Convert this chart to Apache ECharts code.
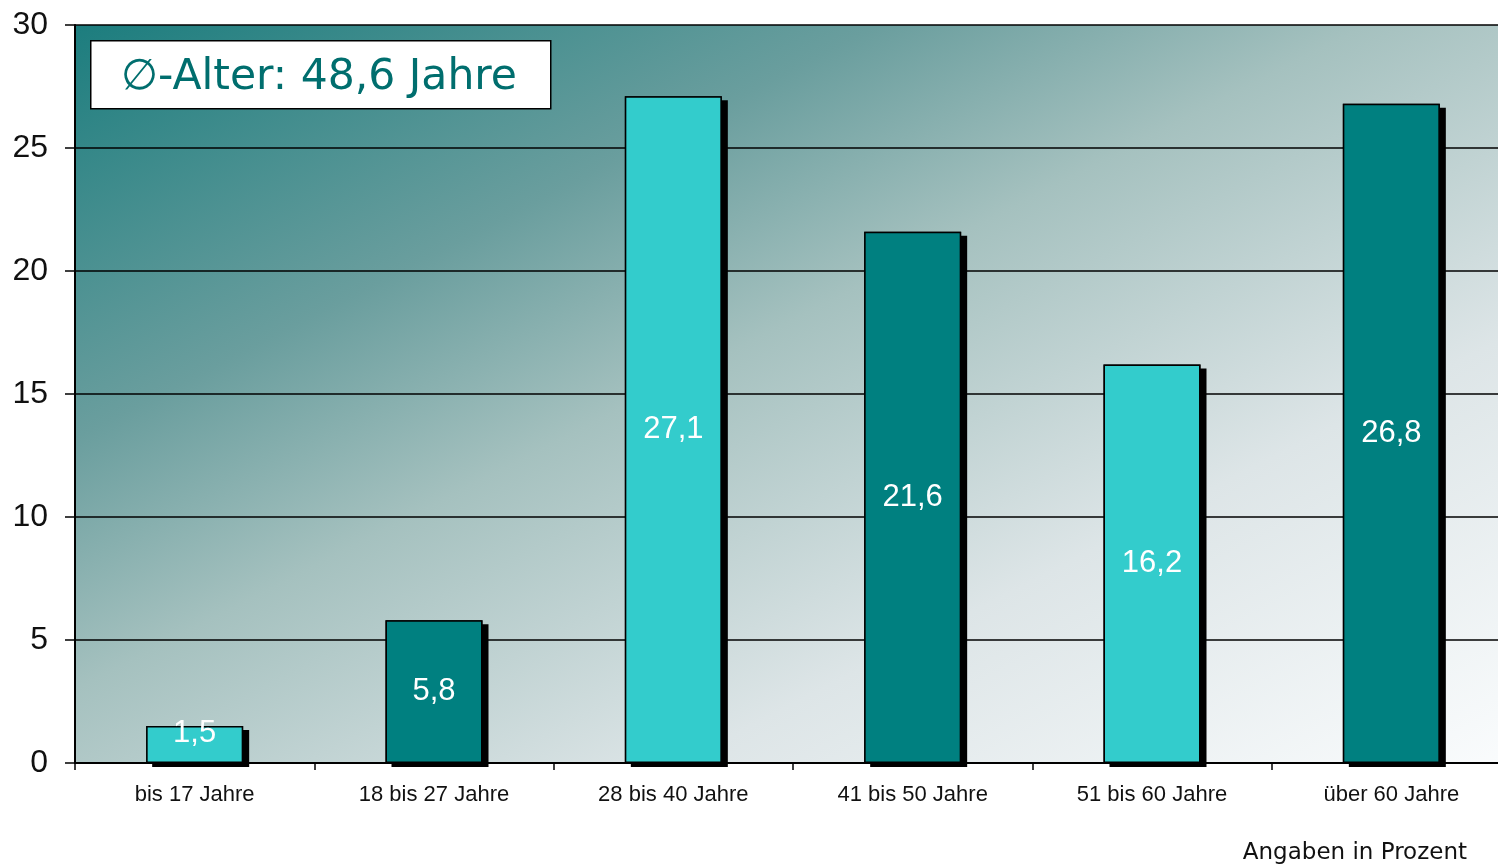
<!DOCTYPE html>
<html lang="de">
<head>
    <meta charset="UTF-8">
    <title>Altersstruktur</title>
    <style>
        html, body { margin: 0; padding: 0; background: #fff; }
    </style>
</head>
<body>

<div id="main" style="width: 1498px;height:865px;"></div>

<script src="https://cdn.jsdelivr.net/npm/echarts@6/dist/echarts.min.js" charset="utf-8"></script>
<script type="text/javascript">
    var categories = ['bis 17 Jahre', '18 bis 27 Jahre', '28 bis 40 Jahre', '41 bis 50 Jahre', '51 bis 60 Jahre', 'über 60 Jahre'];
    var values = [1.5, 5.8, 27.1, 21.6, 16.2, 26.8];
    var barColors = ['#33cccc', '#008080', '#33cccc', '#008080', '#33cccc', '#008080'];
    var yTicks = [0, 5, 10, 15, 20, 25, 30];

    var myChart = echarts.init(document.getElementById('main'));

    var barData = [];
    for (var i = 0; i < values.length; i++) {
        var item = {
            value: values[i],
            itemStyle: { color: barColors[i] }
        };
        // 矮柱子的标签略微上移
        if (values[i] < 3) {
            item.label = { offset: [0, -11] };
        }
        barData.push(item);
    }

    // 背景渐变：左上深青色，右下接近白色
    var bg = {
        type: 'linear', x: 0, y: 0, x2: 0.418, y2: 1.582,
        colorStops: [
            { offset: 0, color: '#1c7d7e' },
            { offset: 0.28, color: '#6a9e9e' },
            { offset: 0.45, color: '#a5c1bf' },
            { offset: 0.71, color: '#dde5e7' },
            { offset: 1, color: '#fafcfd' }
        ]
    };

    var option = {
        animation: false,
        grid: {
            left: 75,
            right: -13,
            top: 25,
            bottom: 102,
            outerBoundsMode: 'none',
            show: true,
            borderWidth: 0,
            backgroundColor: bg
        },
        xAxis: {
            type: 'category',
            data: categories,
            axisLine: { lineStyle: { color: '#000', width: 2 } },
            axisTick: { show: true, length: 7, lineStyle: { color: '#000', width: 1.5 } },
            axisLabel: {
                color: '#111',
                fontFamily: 'Liberation Sans, Arial, sans-serif',
                fontSize: 22,
                margin: 21
            }
        },
        yAxis: {
            type: 'value',
            min: yTicks[0],
            max: yTicks[yTicks.length - 1],
            interval: 5,
            axisLine: { show: true, lineStyle: { color: '#000', width: 2 } },
            axisTick: { show: true, length: 10, lineStyle: { color: '#000', width: 1.5 } },
            axisLabel: {
                color: '#111',
                fontFamily: 'Liberation Sans, Arial, sans-serif',
                fontSize: 32,
                margin: 27
            },
            splitLine: { lineStyle: { color: '#000', width: 1.5 } }
        },
        series: [
            {
                // 阴影层
                type: 'bar',
                data: values,
                barWidth: 97,
                barGap: '-100%',
                z: 1,
                silent: true,
                itemStyle: {
                    color: '#000',
                    shadowColor: '#000',
                    shadowBlur: 0,
                    shadowOffsetX: 6,
                    shadowOffsetY: 4
                }
            },
            {
                type: 'bar',
                data: barData,
                barWidth: 97,
                barGap: '-100%',
                z: 2,
                itemStyle: {
                    borderColor: '#000',
                    borderWidth: 1.5
                },
                label: {
                    show: true,
                    position: 'inside',
                    color: '#fff',
                    fontFamily: 'Liberation Sans, Arial, sans-serif',
                    fontSize: 31,
                    formatter: function (p) {
                        return String(p.value).replace('.', ',');
                    }
                }
            }
        ],
        graphic: [
            {
                type: 'rect',
                left: 90,
                top: 40,
                shape: { width: 460, height: 68 },
                style: { fill: '#fff', stroke: '#000', lineWidth: 1.5 },
                z: 10
            },
            {
                type: 'text',
                left: 121,
                top: 56,
                style: {
                    text: '∅-Alter: 48,6 Jahre',
                    fill: '#006e6e',
                    font: '42.5px "DejaVu Sans", Verdana, sans-serif'
                },
                z: 11
            },
            {
                type: 'text',
                right: 31,
                top: 842,
                style: {
                    text: 'Angaben in Prozent',
                    fill: '#111',
                    font: '23px "DejaVu Sans", Verdana, sans-serif'
                }
            }
        ]
    };

    myChart.setOption(option);
</script>
</body>
</html>
